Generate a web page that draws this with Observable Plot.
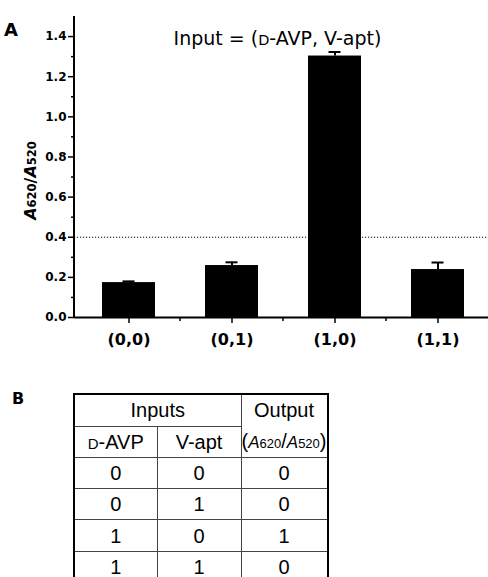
<!DOCTYPE html>
<html><head><meta charset="utf-8">
<script src="https://cdn.jsdelivr.net/npm/d3@7"></script>
<script src="https://cdn.jsdelivr.net/npm/@observablehq/plot@0.6"></script>
<style>
html,body{margin:0;padding:0;background:#fff;}
#wrap{position:relative;width:488px;height:577px;overflow:hidden;background:#fff;}
#chart{position:absolute;left:0;top:0;}
#labB{position:absolute;left:12px;top:389px;font:bold 16px "DejaVu Sans";color:#000;}
#tbl{position:absolute;left:73px;top:393px;border-collapse:collapse;table-layout:fixed;font-family:"Liberation Sans",Arial,sans-serif;font-size:20px;color:#000;border:2px solid #000;}
#tbl td{border:1px solid #444;text-align:center;vertical-align:middle;padding:0;line-height:1;}
.sc{font-size:15px;}
.sub{font-size:13px;}
.it{font-style:italic;font-size:17px;}
</style></head><body>
<div id="wrap"><div id="chart"></div><div id="labB">B</div><table id="tbl"></table></div>
<script>
// ---- data ----
const categories = ["(0,0)", "(0,1)", "(1,0)", "(1,1)"];
const ratios = [0.174, 0.259, 1.303, 0.239];
const errors = [0.006, 0.016, 0.02, 0.035];
const threshold = 0.4;
const yMajorTicks = [0, 0.2, 0.4, 0.6, 0.8, 1.0, 1.2, 1.4];
const yMinorTicks = [0.1, 0.3, 0.5, 0.7, 0.9, 1.1, 1.3];
const inputDAVP = [0, 0, 1, 1];
const inputVapt = [0, 1, 0, 1];
const outputBits = [0, 0, 1, 0];

const data = categories.map((c, i) => ({cat: c, v: ratios[i], e: errors[i]}));
const M = {left: 74, right: 0, top: 16, bottom: 43};

const plot = Plot.plot({
  width: 488, height: 360,
  marginLeft: M.left, marginRight: M.right, marginTop: M.top, marginBottom: M.bottom,
  style: {fontFamily: "'DejaVu Sans'", fontWeight: "bold", color: "#000", background: "#fff", overflow: "visible"},
  x: {domain: categories, range: [75.75, 489.75], paddingInner: 0.488, paddingOuter: 0.244},
  y: {domain: [0, 1.5]},
  marks: [
    Plot.ruleY([threshold], {stroke: "#000", strokeWidth: 1, strokeDasharray: "1.2,1.8"}),
    Plot.barY(data, {x: "cat", y: "v", fill: "#000"}),
    Plot.ruleX(data, {x: "cat", y1: "v", y2: d => d.v + d.e, stroke: "#000", strokeWidth: 2}),
    Plot.tickY(data, {x: "cat", y: d => d.v + d.e, stroke: "#000", strokeWidth: 2, insetLeft: 20.5, insetRight: 20.5}),
    Plot.ruleY([0], {stroke: "#000", strokeWidth: 2}),
    Plot.axisY(yMajorTicks, {tickSize: 6, tickPadding: 2, tickFormat: d => d.toFixed(1), fontSize: 12, label: null, strokeWidth: 1.5}),
    Plot.axisY(yMinorTicks, {tickSize: 3, tickFormat: () => "", label: null, strokeWidth: 1.5}),
    Plot.axisX({tickSize: 6, tickPadding: 10, fontSize: 16, label: null, strokeWidth: 1.5})
  ]
});
document.getElementById("chart").appendChild(plot);

const svg = d3.select(plot);
const xs = plot.scale("x"), ys = plot.scale("y");
const y0 = ys.apply(0);
// y axis line
svg.append("line").attr("x1", M.left).attr("x2", M.left)
  .attr("y1", ys.apply(1.5)).attr("y2", y0 + 1)
  .attr("stroke", "#000").attr("stroke-width", 2);
// minor x ticks at category boundaries
const gap = xs.step - xs.bandwidth;
categories.slice(1).forEach(c => {
  const bx = xs.apply(c) - gap / 2;
  svg.append("line").attr("x1", bx).attr("x2", bx).attr("y1", y0).attr("y2", y0 + 4)
    .attr("stroke", "#000").attr("stroke-width", 1.5);
});
// panel letter
svg.append("text").attr("x", 11).attr("y", 36).style("font", "bold 18px 'DejaVu Sans'").attr("fill", "#000").text("A");
// title
const t = svg.append("text").attr("x", 277.5).attr("y", 44.5).attr("text-anchor", "middle")
  .style("font", "normal 19px 'DejaVu Sans'").attr("fill", "#000");
t.append("tspan").text("Input = (");
t.append("tspan").style("font-size", "14.5px").text("D");
t.append("tspan").text("-AVP, V-apt)");
// y label
const yl = svg.append("text").attr("transform", `translate(36,${ys.apply(0.68)}) rotate(-90)`)
  .attr("text-anchor", "middle").style("font-family", "'DejaVu Sans'").style("font-weight", "bold").attr("fill", "#000");
yl.append("tspan").style("font-style", "italic").style("font-size", "16px").text("A");
yl.append("tspan").style("font-size", "11.5px").text("620");
yl.append("tspan").style("font-size", "16px").text("/");
yl.append("tspan").style("font-style", "italic").style("font-size", "16px").text("A");
yl.append("tspan").style("font-size", "11.5px").text("520");

// ---- table B ----
const tbl = document.getElementById("tbl");
const colW = [83, 84, 85];
const cg = document.createElement("colgroup");
colW.forEach(w => { const c = document.createElement("col"); c.style.width = w + "px"; cg.appendChild(c); });
tbl.appendChild(cg);
const r1 = tbl.insertRow();
r1.style.height = "32px";
const c11 = r1.insertCell(); c11.colSpan = 2; c11.textContent = "Inputs";
const c13 = r1.insertCell(); c13.rowSpan = 2;
c13.innerHTML = '<div style="height:31px;line-height:31px">Output</div><div style="height:31px;line-height:31px">(<span class="it">A</span><span class="sub">620</span>/<span class="it">A</span><span class="sub">520</span>)</div>';
const r2 = tbl.insertRow();
r2.style.height = "31px";
r2.insertCell().innerHTML = '<span class="sc">D</span>-AVP';
r2.insertCell().textContent = "V-apt";
const rowH = [31, 31, 32, 31];
inputDAVP.forEach((d, i) => {
  const r = tbl.insertRow();
  r.style.height = rowH[i] + "px";
  r.insertCell().textContent = d;
  r.insertCell().textContent = inputVapt[i];
  r.insertCell().textContent = outputBits[i];
});
</script>
</body></html>
